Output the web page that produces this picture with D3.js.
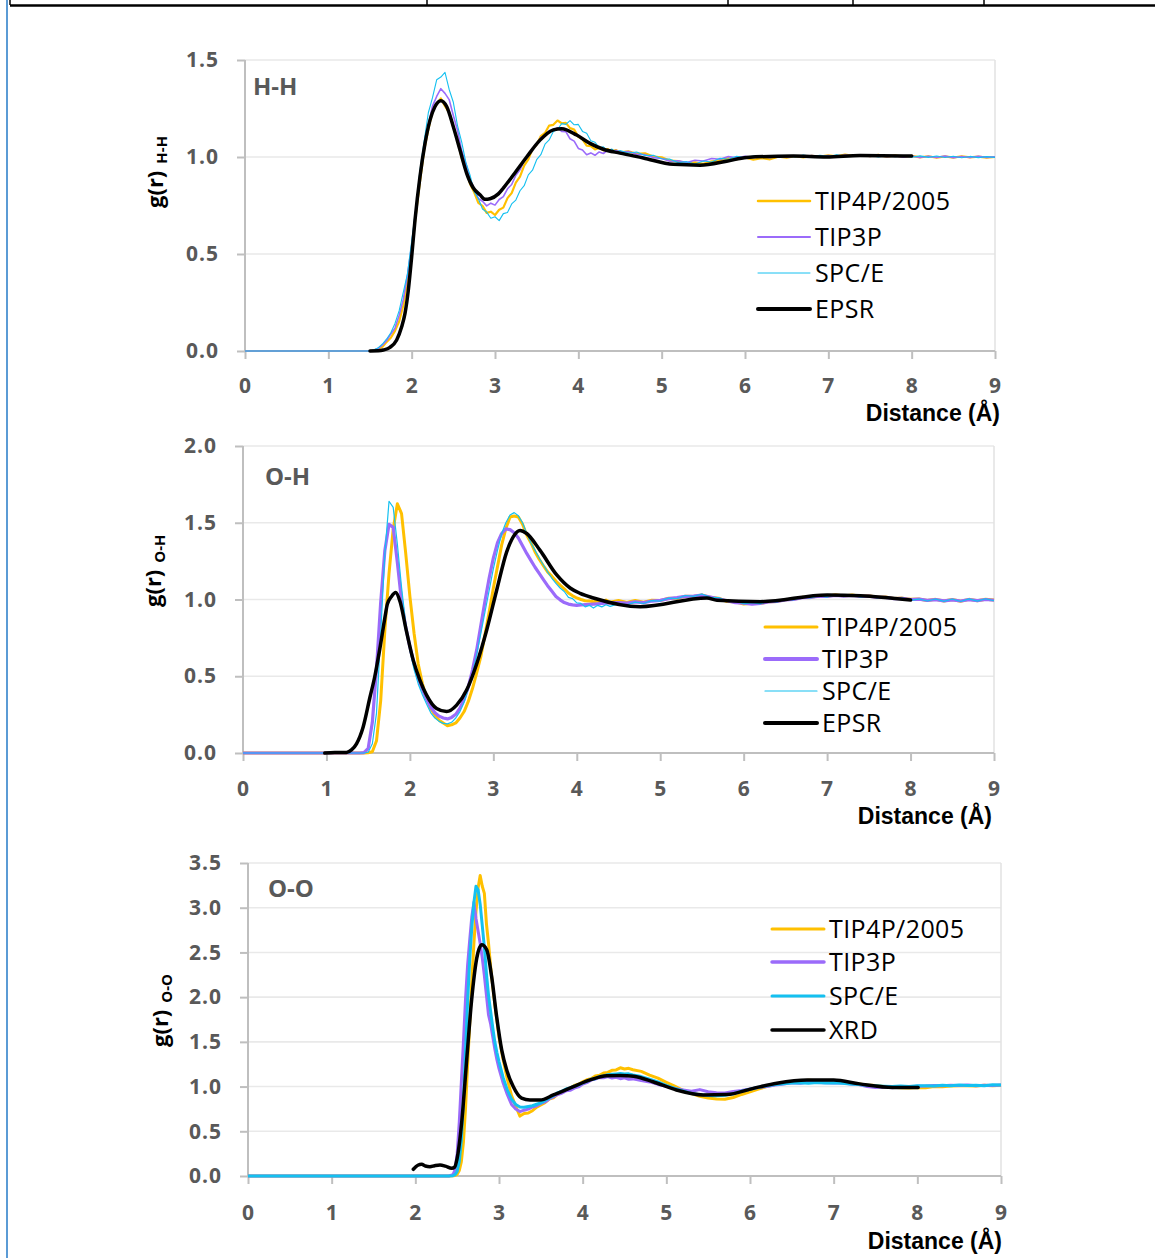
<!DOCTYPE html>
<html>
<head>
<meta charset="utf-8">
<script src="https://cdn.jsdelivr.net/npm/d3@7"></script>
<style>
  body { margin: 0; background: #fff; }
  svg { display: block; }
  text { font-family: "Open Sans", "Liberation Sans", sans-serif; }
</style>
</head>
<body>
<svg id="chart" width="1155" height="1258"></svg>
<script>
// ---------- shared axis values ----------
const distanceTicks = [0, 1, 2, 3, 4, 5, 6, 7, 8, 9];
const hhTicks = [0, 0.5, 1.0, 1.5];
const ohTicks = [0, 0.5, 1.0, 1.5, 2.0];
const ooTicks = [0, 0.5, 1.0, 1.5, 2.0, 2.5, 3.0, 3.5];
const modelNames = ["TIP4P/2005", "TIP3P", "SPC/E"];

// ---------- H-H pair distribution ----------
const rHH = [
  0, 1.5, 1.55, 1.6, 1.65, 1.7, 1.75, 1.8, 1.85, 1.9,
  1.95, 2, 2.05, 2.1, 2.15, 2.2, 2.25, 2.3, 2.35, 2.4,
  2.45, 2.5, 2.55, 2.6, 2.65, 2.7, 2.75, 2.8, 2.85, 2.9,
  2.95, 3, 3.05, 3.1, 3.15, 3.2, 3.25, 3.3, 3.35, 3.4,
  3.45, 3.5, 3.55, 3.6, 3.65, 3.7, 3.75, 3.8, 3.85, 3.9,
  3.95, 4, 4.05, 4.1, 4.15, 4.2, 4.25, 4.3, 4.35, 4.4,
  4.45, 4.5, 4.6, 4.7, 4.8, 4.9, 5, 5.1, 5.2, 5.3,
  5.4, 5.5, 5.6, 5.7, 5.8, 5.9, 6, 6.1, 6.2, 6.3,
  6.4, 6.5, 6.6, 6.7, 6.8, 6.9, 7, 7.1, 7.2, 7.3,
  7.4, 7.5, 7.6, 7.7, 7.8, 7.9, 8, 8.1, 8.2, 8.3,
  8.4, 8.5, 8.6, 8.7, 8.8, 8.9, 9
];
const tip4pHH = [
  0, 0, 0.004, 0.012, 0.022, 0.047, 0.068, 0.104, 0.152, 0.236,
  0.362, 0.518, 0.702, 0.874, 1.036, 1.142, 1.238, 1.271, 1.302, 1.262,
  1.228, 1.152, 1.088, 0.994, 0.936, 0.862, 0.818, 0.764, 0.748, 0.712,
  0.718, 0.701, 0.728, 0.739, 0.788, 0.814, 0.868, 0.899, 0.956, 0.988,
  1.042, 1.063, 1.108, 1.124, 1.162, 1.166, 1.188, 1.174, 1.176, 1.149,
  1.141, 1.104, 1.091, 1.058, 1.056, 1.039, 1.046, 1.034, 1.041, 1.029,
  1.036, 1.024, 1.029, 1.016, 1.019, 1.002, 0.998, 0.981, 0.979, 0.966,
  0.972, 0.965, 0.978, 0.982, 0.994, 0.989, 0.998, 0.986, 0.994, 0.988,
  1.002, 0.996, 1.004, 0.998, 1.006, 1.002, 1.009, 1.003, 1.012, 1.006,
  1.01, 1.004, 1.011, 1.002, 1.008, 1.001, 1.006, 0.998, 1.004, 0.996,
  1.003, 0.997, 1.004, 0.998, 1.002, 0.997, 1.0
];
const tip3pHH = [
  0, 0, 0.005, 0.014, 0.031, 0.054, 0.088, 0.118, 0.184, 0.266,
  0.394, 0.546, 0.724, 0.896, 1.054, 1.166, 1.262, 1.312, 1.352, 1.328,
  1.296, 1.214, 1.138, 1.032, 0.968, 0.884, 0.838, 0.786, 0.772, 0.748,
  0.762, 0.752, 0.781, 0.796, 0.836, 0.858, 0.906, 0.934, 0.981, 1.004,
  1.046, 1.062, 1.101, 1.108, 1.136, 1.134, 1.151, 1.132, 1.131, 1.094,
  1.082, 1.044, 1.036, 1.012, 1.021, 1.009, 1.026, 1.018, 1.034, 1.024,
  1.035, 1.026, 1.028, 1.014, 1.012, 0.997, 0.992, 0.978, 0.981, 0.972,
  0.983, 0.979, 0.992, 0.988, 1.002, 0.996, 1.004, 0.997, 1.003, 0.996,
  1.005, 0.999, 1.006, 1.0, 1.008, 1.002, 1.007, 1.001, 1.01, 1.004,
  1.011, 1.003, 1.009, 1.001, 1.007, 0.999, 1.005, 0.997, 1.004, 0.998,
  1.005, 0.996, 1.003, 0.997, 1.004, 0.998, 1.001
];
const spceHH = [
  0, 0, 0.006, 0.017, 0.036, 0.062, 0.094, 0.142, 0.208, 0.304,
  0.398, 0.566, 0.738, 0.934, 1.082, 1.228, 1.306, 1.398, 1.412, 1.436,
  1.348, 1.282, 1.162, 1.078, 0.972, 0.908, 0.822, 0.786, 0.732, 0.716,
  0.684, 0.692, 0.672, 0.708, 0.714, 0.758, 0.778, 0.826, 0.852, 0.908,
  0.932, 0.986, 1.012, 1.066, 1.088, 1.131, 1.142, 1.172, 1.168, 1.188,
  1.166, 1.168, 1.132, 1.122, 1.084, 1.076, 1.048, 1.052, 1.034, 1.041,
  1.026, 1.034, 1.021, 1.026, 1.008, 1.009, 0.991, 0.989, 0.971, 0.976,
  0.964, 0.979, 0.974, 0.993, 0.988, 1.004, 0.996, 1.005, 0.997, 1.006,
  0.998, 1.007, 1.0, 1.01, 1.002, 1.009, 1.003, 1.012, 1.004, 1.01,
  1.003, 1.009, 1.0, 1.008, 1.001, 1.007, 0.999, 1.006, 0.998, 1.005,
  0.997, 1.004, 0.996, 1.003, 0.997, 1.002, 0.998
];
const rEpsrHH = [
  1.5, 1.6, 1.66, 1.74, 1.82, 1.88, 1.92, 1.96, 2.0, 2.04,
  2.1, 2.16, 2.22, 2.28, 2.35, 2.42, 2.5, 2.58, 2.66, 2.74,
  2.82, 2.88, 2.94, 3.04, 3.1, 3.22, 3.38, 3.54, 3.7, 3.8,
  3.98, 4.14, 4.3, 4.5, 4.78, 5.14, 5.46, 5.78, 6.02, 6.58,
  6.98, 7.38, 8.0
];
const epsrHH = [
  0, 0.001, 0.005, 0.019, 0.057, 0.125, 0.194, 0.314, 0.486, 0.675,
  0.9, 1.07, 1.19, 1.26, 1.29, 1.26, 1.156, 1.036, 0.916, 0.84,
  0.805, 0.782, 0.785, 0.81, 0.84, 0.907, 1.0, 1.087, 1.14, 1.146,
  1.113, 1.07, 1.04, 1.02, 0.995, 0.962, 0.958, 0.978, 0.998, 1.005,
  1.0, 1.008, 1.005
];

// ---------- O-H pair distribution ----------
const rOH = [
  0, 1.4, 1.45, 1.5, 1.55, 1.6, 1.65, 1.7, 1.75, 1.8,
  1.85, 1.9, 1.95, 2, 2.05, 2.1, 2.15, 2.2, 2.25, 2.3,
  2.35, 2.4, 2.45, 2.5, 2.55, 2.6, 2.65, 2.7, 2.75, 2.8,
  2.85, 2.9, 2.95, 3, 3.05, 3.1, 3.15, 3.2, 3.25, 3.3,
  3.35, 3.4, 3.45, 3.5, 3.55, 3.6, 3.65, 3.7, 3.75, 3.8,
  3.85, 3.9, 3.95, 4, 4.05, 4.1, 4.15, 4.2, 4.25, 4.3,
  4.35, 4.4, 4.5, 4.6, 4.7, 4.8, 4.9, 5, 5.1, 5.2,
  5.3, 5.4, 5.5, 5.6, 5.7, 5.8, 5.9, 6, 6.1, 6.2,
  6.3, 6.4, 6.5, 6.6, 6.7, 6.8, 6.9, 7, 7.1, 7.2,
  7.3, 7.4, 7.5, 7.6, 7.7, 7.8, 7.9, 8, 8.1, 8.2,
  8.3, 8.4, 8.5, 8.6, 8.7, 8.8, 8.9, 9
];
const tip4pOH = [
  0, 0, 0, 0.002, 0.008, 0.08, 0.34, 0.8, 1.17, 1.46,
  1.624, 1.56, 1.3, 1.02, 0.78, 0.58, 0.452, 0.358, 0.288, 0.246,
  0.214, 0.196, 0.178, 0.184, 0.196, 0.228, 0.27, 0.336, 0.42, 0.52,
  0.628, 0.772, 0.918, 1.074, 1.214, 1.356, 1.462, 1.538, 1.544, 1.538,
  1.49, 1.42, 1.37, 1.31, 1.262, 1.22, 1.18, 1.152, 1.12, 1.094,
  1.07, 1.042, 1.024, 1.01, 1.0, 0.992, 0.99, 0.985, 0.99, 0.986,
  0.996, 0.982, 0.993, 0.981, 0.994, 0.982, 0.995, 0.993, 1.008, 1.006,
  1.021, 1.019, 1.03, 1.014, 1.009, 0.987, 0.985, 0.971, 0.976, 0.974,
  0.986, 0.987, 0.999, 1.001, 1.014, 1.012, 1.024, 1.02, 1.031, 1.023,
  1.03, 1.021, 1.025, 1.015, 1.017, 1.007, 1.009, 1.001, 1.003, 0.993,
  1.001, 0.99, 1.0, 0.989, 1.001, 0.992, 1.002, 0.996
];
const tip3pOH = [
  0, 0, 0.002, 0.03, 0.2, 0.55, 0.98, 1.32, 1.49, 1.47,
  1.24, 0.99, 0.82, 0.69, 0.58, 0.488, 0.414, 0.35, 0.3, 0.262,
  0.24, 0.228, 0.222, 0.232, 0.252, 0.292, 0.35, 0.43, 0.54, 0.67,
  0.83, 0.99, 1.14, 1.27, 1.37, 1.43, 1.46, 1.455, 1.435, 1.4,
  1.35, 1.3, 1.255, 1.21, 1.17, 1.13, 1.09, 1.055, 1.02, 0.998,
  0.98, 0.97, 0.965, 0.962, 0.964, 0.966, 0.968, 0.97, 0.972, 0.974,
  0.976, 0.978, 0.98, 0.976, 0.984, 0.98, 0.99, 0.994, 1.006, 1.012,
  1.02, 1.022, 1.028, 1.016, 1.004, 0.992, 0.98, 0.976, 0.97, 0.975,
  0.984, 0.988, 0.998, 1.0, 1.012, 1.014, 1.022, 1.02, 1.027, 1.022,
  1.026, 1.02, 1.022, 1.014, 1.014, 1.006, 1.007, 1.0, 1.002, 0.994,
  0.999, 0.991, 0.998, 0.99, 0.999, 0.993, 1.0, 0.995
];
const spceOH = [
  0, 0, 0, 0.005, 0.06, 0.26, 0.78, 1.3, 1.64, 1.6,
  1.36, 1.08, 0.84, 0.67, 0.545, 0.45, 0.38, 0.32, 0.262, 0.228,
  0.206, 0.193, 0.19, 0.2, 0.228, 0.27, 0.33, 0.42, 0.52, 0.64,
  0.78, 0.92, 1.06, 1.2, 1.32, 1.43, 1.5, 1.55, 1.566, 1.545,
  1.5, 1.43, 1.37, 1.32, 1.27, 1.225, 1.18, 1.14, 1.105, 1.075,
  1.052, 1.014, 1.006, 0.978, 0.975, 0.952, 0.962, 0.944, 0.962, 0.952,
  0.966, 0.955, 0.972, 0.966, 0.983, 0.974, 0.993, 0.99, 1.009, 1.006,
  1.026, 1.02, 1.036, 1.014, 1.013, 0.988, 0.989, 0.972, 0.979, 0.972,
  0.991, 0.984, 1.005, 0.998, 1.017, 1.01, 1.025, 1.016, 1.031, 1.018,
  1.03, 1.016, 1.025, 1.01, 1.017, 1.002, 1.009, 0.994, 1.003, 0.99,
  1.003, 0.988, 1.003, 0.987, 1.004, 0.989, 1.005, 0.992
];
const rEpsrOH = [
  0.98, 1.1, 1.24, 1.3, 1.36, 1.44, 1.52, 1.58, 1.64, 1.7,
  1.73, 1.78, 1.83, 1.88, 1.96, 2.04, 2.12, 2.2, 2.32, 2.44,
  2.56, 2.68, 2.8, 2.92, 3.04, 3.16, 3.24, 3.32, 3.4, 3.56,
  3.76, 3.92, 4.04, 4.2, 4.76, 5.56, 5.68, 6.2, 7.0, 7.4,
  8.0
];
const epsrOH = [
  0, 0.004, 0.004, 0.02, 0.06, 0.17, 0.36, 0.5, 0.68, 0.88,
  0.97, 1.02, 1.045, 0.99, 0.79, 0.605, 0.475, 0.377, 0.29, 0.27,
  0.312, 0.41, 0.58, 0.8, 1.06, 1.31, 1.41, 1.45, 1.43, 1.32,
  1.16, 1.075, 1.04, 1.01, 0.953, 1.01, 0.995, 0.986, 1.03, 1.025,
  0.997
];

// ---------- O-O pair distribution ----------
const rOO = [
  0, 2.4, 2.45, 2.475, 2.5, 2.525, 2.55, 2.575, 2.6, 2.625,
  2.65, 2.675, 2.7, 2.725, 2.75, 2.775, 2.8, 2.825, 2.85, 2.875,
  2.9, 2.925, 2.95, 2.975, 3, 3.05, 3.1, 3.15, 3.2, 3.25,
  3.3, 3.35, 3.4, 3.45, 3.5, 3.55, 3.6, 3.65, 3.7, 3.75,
  3.8, 3.85, 3.9, 3.95, 4, 4.05, 4.1, 4.15, 4.2, 4.25,
  4.3, 4.35, 4.4, 4.45, 4.5, 4.55, 4.6, 4.7, 4.8, 4.9,
  5, 5.1, 5.2, 5.3, 5.4, 5.5, 5.6, 5.7, 5.8, 5.9,
  6, 6.1, 6.2, 6.3, 6.4, 6.5, 6.6, 6.7, 6.8, 6.9,
  7, 7.1, 7.2, 7.3, 7.4, 7.5, 7.6, 7.7, 7.8, 7.9,
  8, 8.1, 8.2, 8.3, 8.4, 8.5, 8.6, 8.7, 8.8, 8.9,
  9
];
const tip4pOO = [
  0, 0, 0.002, 0.006, 0.018, 0.06, 0.16, 0.38, 0.76, 1.25,
  1.7, 2.18, 2.6, 2.96, 3.22, 3.36, 3.24, 3.16, 2.82, 2.6,
  2.34, 2.12, 1.92, 1.74, 1.55, 1.3, 1.08, 0.9, 0.78, 0.67,
  0.7, 0.705, 0.73, 0.77, 0.795, 0.82, 0.86, 0.875, 0.912, 0.94,
  0.968, 0.98, 1.012, 1.026, 1.052, 1.076, 1.088, 1.118, 1.126, 1.152,
  1.158, 1.182, 1.186, 1.21, 1.196, 1.204, 1.188, 1.17, 1.128, 1.094,
  1.048, 1.004, 0.958, 0.922, 0.892, 0.872, 0.86, 0.858, 0.878, 0.912,
  0.94, 0.972, 1.0, 1.022, 1.038, 1.052, 1.06, 1.072, 1.066, 1.064,
  1.058, 1.05, 1.038, 1.03, 1.018, 1.012, 1.0, 0.992, 0.988, 0.984,
  0.99, 0.988, 1.0, 0.998, 1.006, 1.008, 1.01, 1.006, 1.016, 1.008,
  1.015
];
const tip3pOO = [
  0, 0, 0.015, 0.07, 0.25, 0.6, 1.05, 1.5, 1.98, 2.36,
  2.64, 2.9, 3.06, 2.88, 2.74, 2.6, 2.44, 2.24, 2.02, 1.8,
  1.7, 1.56, 1.42, 1.3, 1.2, 1.04, 0.91, 0.8, 0.75, 0.72,
  0.736, 0.748, 0.772, 0.786, 0.812, 0.828, 0.862, 0.884, 0.912, 0.926,
  0.952, 0.958, 0.982, 0.996, 1.028, 1.044, 1.072, 1.084, 1.102, 1.098,
  1.112, 1.096, 1.104, 1.088, 1.098, 1.082, 1.086, 1.068, 1.052, 1.024,
  1.004, 0.978, 0.962, 0.948, 0.966, 0.942, 0.932, 0.928, 0.944, 0.956,
  0.972, 0.99, 1.0, 1.018, 1.03, 1.042, 1.038, 1.052, 1.046, 1.044,
  1.04, 1.042, 1.028, 1.022, 1.0, 0.99, 0.994, 0.988, 1.0, 0.996,
  1.004, 1.006, 1.012, 1.008, 1.014, 1.012, 1.018, 1.01, 1.016, 1.012,
  1.018
];
const spceOO = [
  0, 0, 0.004, 0.015, 0.05, 0.16, 0.4, 0.85, 1.4, 1.95,
  2.42, 2.78, 3.06, 3.24, 3.2, 3.04, 2.8, 2.56, 2.26, 2.02,
  1.84, 1.66, 1.5, 1.38, 1.28, 1.1, 0.96, 0.86, 0.8, 0.772,
  0.768, 0.778, 0.786, 0.802, 0.818, 0.846, 0.872, 0.898, 0.93, 0.948,
  0.972, 0.984, 1.004, 1.018, 1.042, 1.058, 1.082, 1.088, 1.112, 1.118,
  1.132, 1.138, 1.142, 1.146, 1.14, 1.142, 1.13, 1.112, 1.082, 1.052,
  1.012, 0.98, 0.952, 0.922, 0.91, 0.9, 0.898, 0.904, 0.92, 0.948,
  0.97, 0.992, 1.01, 1.024, 1.032, 1.04, 1.044, 1.038, 1.046, 1.04,
  1.042, 1.036, 1.03, 1.022, 1.014, 1.008, 1.004, 1.0, 1.006, 1.002,
  1.008, 1.01, 1.006, 1.014, 1.01, 1.018, 1.012, 1.016, 1.01, 1.02,
  1.018
];
const rXrdOO = [
  1.976, 2.03, 2.076, 2.12, 2.175, 2.23, 2.295, 2.36, 2.435, 2.47,
  2.5, 2.554, 2.614, 2.673, 2.733, 2.793, 2.853, 2.912, 2.972, 3.032,
  3.092, 3.17, 3.27, 3.37, 3.49, 3.65, 3.89, 4.09, 4.29, 4.45,
  4.61, 4.84, 5.12, 5.44, 5.72, 6.04, 6.32, 6.68, 7.0, 7.31,
  7.71, 8.01
];
const xrdOO = [
  0.075, 0.12, 0.13, 0.112, 0.104, 0.115, 0.123, 0.11, 0.086, 0.1,
  0.2, 0.6, 1.3, 1.97, 2.43, 2.585, 2.53, 2.23, 1.78, 1.41,
  1.186, 1.0, 0.87, 0.85, 0.85, 0.906, 1.0, 1.074, 1.12, 1.125,
  1.115, 1.054, 0.962, 0.906, 0.91, 0.98, 1.037, 1.074, 1.074, 1.03,
  0.99, 0.99
];

// ---------- styling ----------
const modelColors = ["#ffc000", "#9b6bfa", "#14c0f0"];
const refColor = "#000000";

const panels = [
  {
    tag: "H-H", ymax: 1.5, yTicks: hhTicks,
    box: { left: 245, right: 995, top: 60, bottom: 351 },
    models: [tip4pHH, tip3pHH, spceHH].map(g => d3.zip(rHH, g)),
    ref: { name: "EPSR", pts: d3.zip(rEpsrHH, epsrHH) },
    lineW: [2.2, 1.6, 1.1, 3.5], keyW: [2.5, 2, 1, 4],
    key: { x: 758, len: 52, rows: [201, 237, 273, 309] },
    xPad: 19, xTitle: [1000, 421], yTitle: [163, 208], tagPos: [253, 95]
  },
  {
    tag: "O-H", ymax: 2.0, yTicks: ohTicks,
    box: { left: 243, right: 994, top: 446, bottom: 753 },
    models: [tip4pOH, tip3pOH, spceOH].map(g => d3.zip(rOH, g)),
    ref: { name: "EPSR", pts: d3.zip(rEpsrOH, epsrOH) },
    lineW: [3, 3.2, 1.2, 3.5], keyW: [3, 4, 1.2, 4],
    key: { x: 765, len: 52, rows: [627, 659, 691, 723] },
    xPad: 20, xTitle: [992, 824], yTitle: [161, 607], tagPos: [265, 485]
  },
  {
    tag: "O-O", ymax: 3.5, yTicks: ooTicks,
    box: { left: 248, right: 1001, top: 863, bottom: 1176 },
    models: [tip4pOO, tip3pOO, spceOO].map(g => d3.zip(rOO, g)),
    ref: { name: "XRD", pts: d3.zip(rXrdOO, xrdOO) },
    lineW: [3, 3, 3, 3.5], keyW: [3, 3.5, 3, 3.5],
    key: { x: 772, len: 52, rows: [929, 962, 996, 1030] },
    xPad: 21, xTitle: [1002, 1249], yTitle: [168, 1047], tagPos: [268, 897]
  }
];

const svg = d3.select("#chart");

// page frame: table rule along the top and the blue margin rule on the left
const frame = svg.append("g");
frame.append("line").attr("x1", 10).attr("x2", 1155).attr("y1", 5.5).attr("y2", 5.5)
  .attr("stroke", "#000").attr("stroke-width", 2.5);
[10, 427, 728, 853, 984].forEach(cx => {
  frame.append("line").attr("x1", cx).attr("x2", cx).attr("y1", 0).attr("y2", 5)
    .attr("stroke", "#000").attr("stroke-width", 1.5);
});
frame.append("line").attr("x1", 7).attr("x2", 7).attr("y1", 0).attr("y2", 1258)
  .attr("stroke", "#5b9bd5").attr("stroke-width", 2);

function drawPanel(p) {
  const b = p.box;
  const x = d3.scaleLinear().domain([0, 9]).range([b.left, b.right]);
  const y = d3.scaleLinear().domain([0, p.ymax]).range([b.bottom, b.top]);
  const g = svg.append("g");

  // horizontal gridlines and plot-area border
  g.selectAll(".grid").data(p.yTicks.filter(v => v > 0)).join("line")
    .attr("x1", b.left).attr("x2", b.right)
    .attr("y1", d => y(d)).attr("y2", d => y(d))
    .attr("stroke", "#e9e9e9").attr("stroke-width", 1.6);
  g.append("line").attr("x1", b.right).attr("x2", b.right)
    .attr("y1", b.top).attr("y2", b.bottom)
    .attr("stroke", "#e2e2e2").attr("stroke-width", 1.5);

  // axes
  const xAxis = d3.axisBottom(x).tickValues(distanceTicks).tickSize(8)
    .tickPadding(p.xPad).tickFormat(d3.format("d"));
  const yAxis = d3.axisLeft(y).tickValues(p.yTicks).tickSize(8)
    .tickPadding(18).tickFormat(d3.format(".1f"));
  const styleAxis = sel => {
    sel.select(".domain").attr("stroke", "#bfbfbf").attr("stroke-width", 2);
    sel.selectAll(".tick line").attr("stroke", "#bfbfbf").attr("stroke-width", 2);
    sel.selectAll(".tick text")
      .attr("fill", "#595959")
      .style("font-family", "'Open Sans', sans-serif")
      .style("font-weight", "700")
      .style("font-size", "21px")
      .style("letter-spacing", "1px");
  };
  g.append("g").attr("transform", `translate(0,${b.bottom})`).call(xAxis).call(styleAxis)
    .select(".domain").attr("d", `M${b.left},0H${b.right}`);
  g.append("g").attr("transform", `translate(${b.left},0)`).call(yAxis).call(styleAxis)
    .select(".domain").attr("d", `M0,${b.bottom}V${b.top}`);

  // curves: simulation models first, measured/refined curve on top
  const simLine = d3.line().x(d => x(d[0])).y(d => y(d[1]));
  p.models.forEach((pts, i) => {
    g.append("path").datum(pts).attr("d", simLine)
      .attr("fill", "none").attr("stroke", modelColors[i])
      .attr("stroke-width", p.lineW[i]).attr("stroke-linejoin", "round");
  });
  const refLine = d3.line().x(d => x(d[0])).y(d => y(d[1])).curve(d3.curveMonotoneX);
  g.append("path").datum(p.ref.pts).attr("d", refLine)
    .attr("fill", "none").attr("stroke", refColor)
    .attr("stroke-width", p.lineW[3]).attr("stroke-linejoin", "round")
    .attr("stroke-linecap", "round");

  // legend
  const keyNames = modelNames.concat([p.ref.name]);
  const keyColors = modelColors.concat([refColor]);
  keyNames.forEach((name, i) => {
    const ky = p.key.rows[i];
    g.append("line").attr("x1", p.key.x).attr("x2", p.key.x + p.key.len)
      .attr("y1", ky).attr("y2", ky)
      .attr("stroke", keyColors[i]).attr("stroke-width", p.keyW[i])
      .attr("stroke-linecap", "round");
    g.append("text").attr("x", p.key.x + p.key.len + 5).attr("y", ky)
      .attr("dy", "0.36em").attr("fill", "#000")
      .style("font-size", "25px").style("letter-spacing", "0.4px")
      .text(name);
  });

  // panel tag
  g.append("text").attr("x", p.tagPos[0]).attr("y", p.tagPos[1])
    .attr("fill", "#595959").style("font-size", "24px").style("font-weight", "700")
    .text(p.tag);

  // axis titles
  g.append("text").attr("x", p.xTitle[0]).attr("y", p.xTitle[1])
    .attr("text-anchor", "end").attr("fill", "#000")
    .style("font-family", "'Liberation Sans', Arial, sans-serif")
    .style("font-size", "23px").style("font-weight", "700")
    .text("Distance (Å)");
  const yt = g.append("text")
    .attr("transform", `translate(${p.yTitle[0]},${p.yTitle[1]}) rotate(-90)`)
    .attr("fill", "#000").style("font-weight", "700");
  yt.append("tspan").style("font-size", "22px").text("g(r)");
  yt.append("tspan").attr("dx", 7).attr("dy", 4).style("font-size", "15px").text(p.tag);
}

panels.forEach(drawPanel);
</script>
</body>
</html>
